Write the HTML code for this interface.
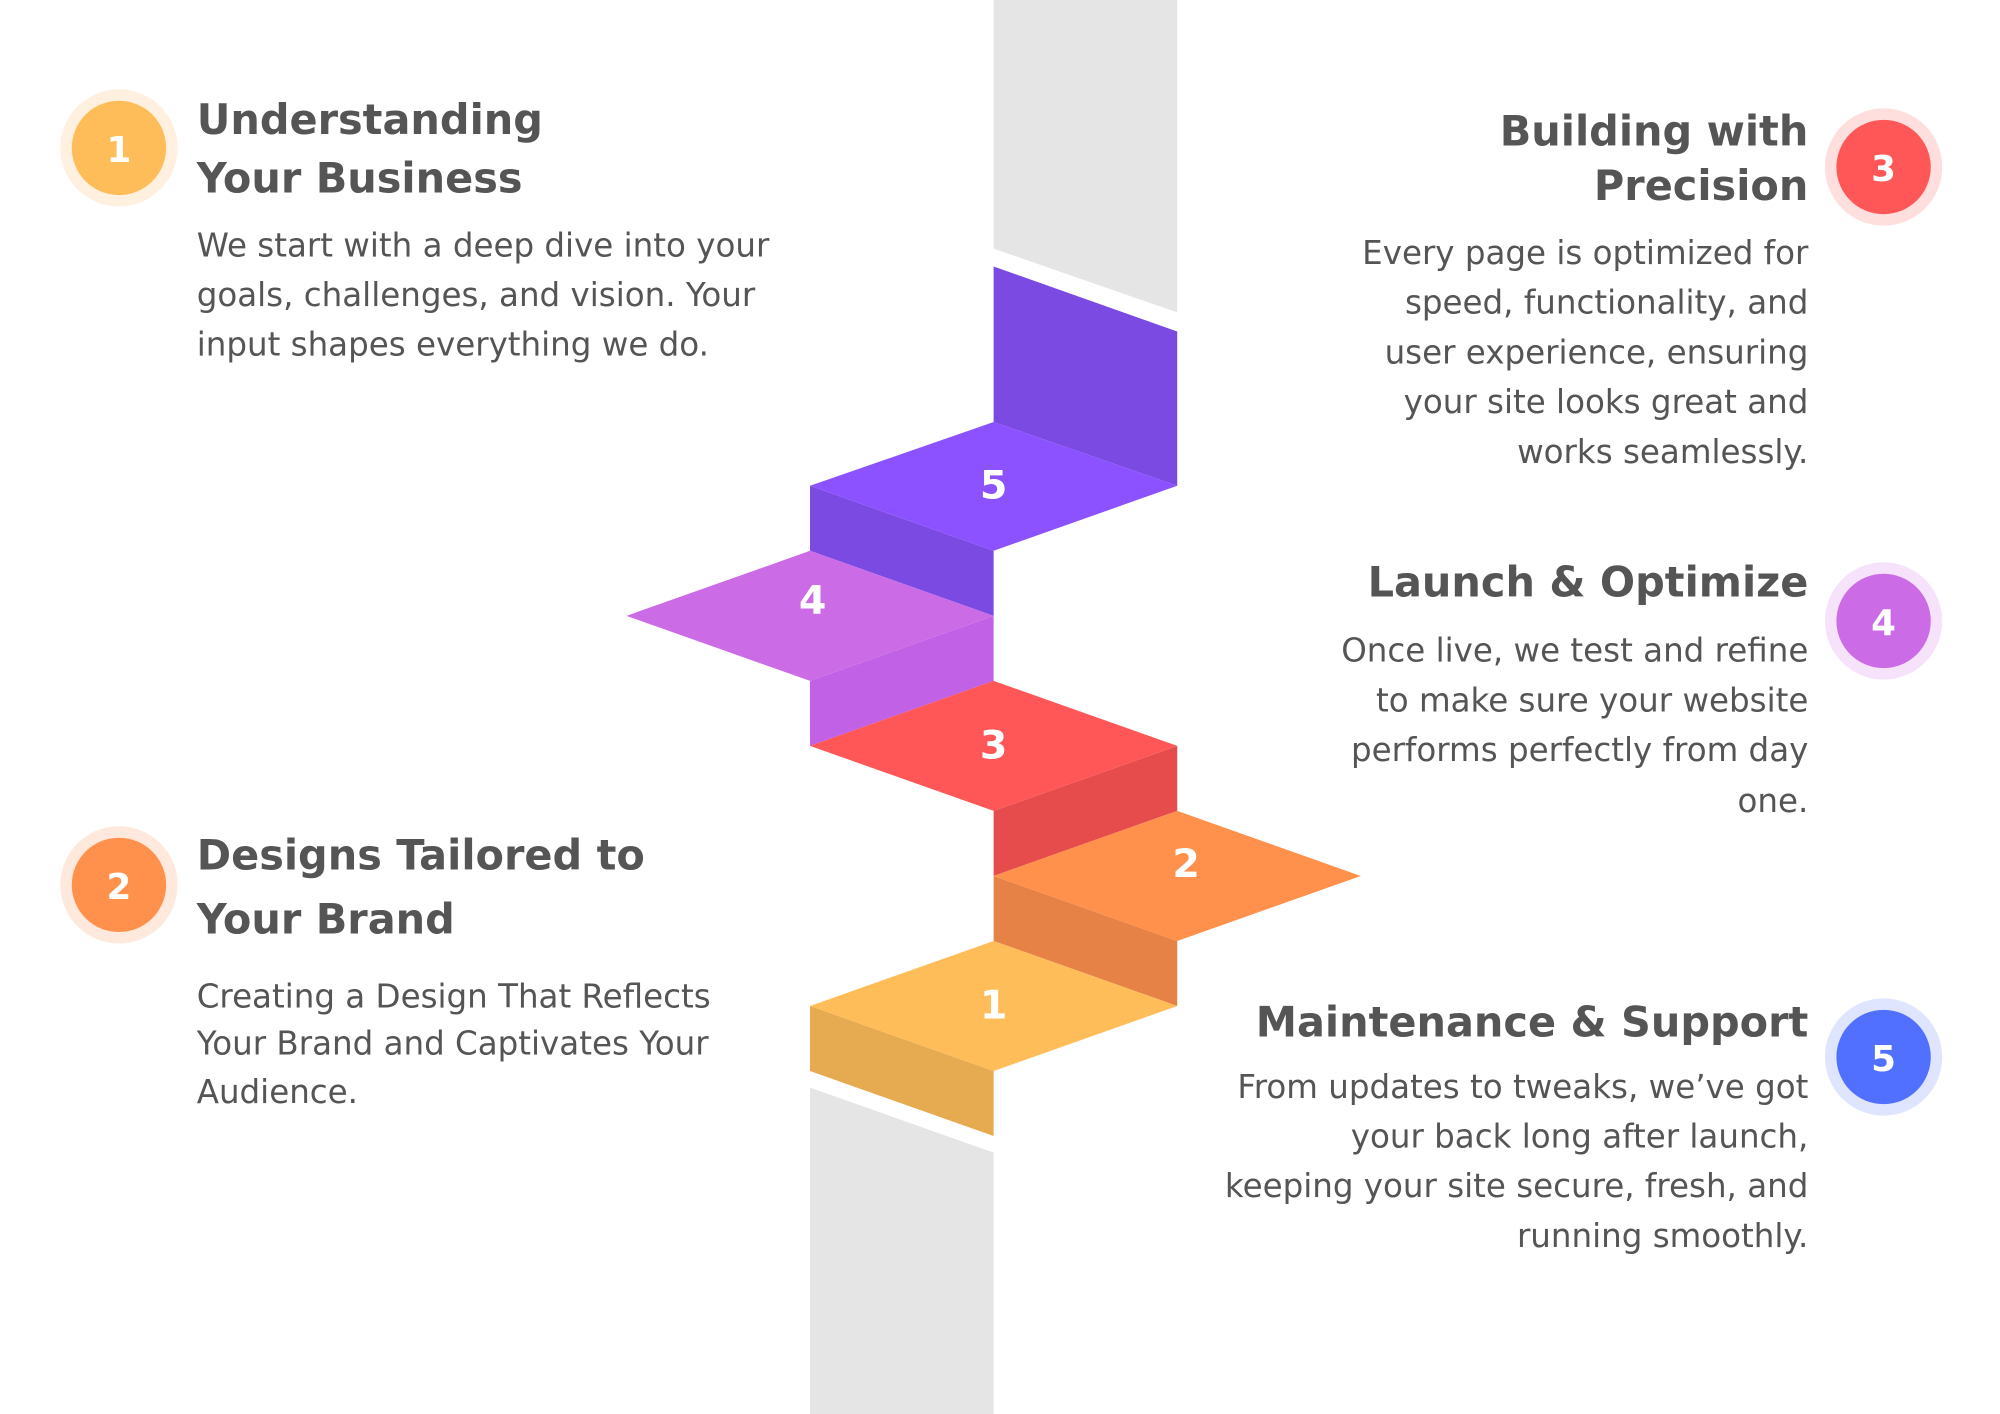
<!DOCTYPE html>
<html><head><meta charset="utf-8"><style>
html,body{margin:0;padding:0;background:#fff;}
svg{display:block;}
text{font-family:"DejaVu Sans","Liberation Sans",sans-serif;fill:#555;}
.t{font-size:32.5px;font-weight:bold;}
.b{font-size:25.5px;}
.n{font-size:31px;font-weight:bold;fill:#fff;}
</style></head><body>
<svg width="2000" height="1414" viewBox="0 0 1568 1109" xmlns="http://www.w3.org/2000/svg">
<rect width="1568" height="1109" fill="#fff"/>
<polygon points="779,0 923,0 923,245 779,195" fill="#e5e5e5"/>
<polygon points="635,853 779,904 779,1109 635,1109" fill="#e5e5e5"/>
<polygon points="779,209 923,260 923,381 779,331" fill="#7b4ae2"/>
<polygon points="635,381 779,432 779,483 635,432" fill="#7b4ae2"/>
<polygon points="635,381 779,331 923,381 779,432" fill="#8c52ff"/>
<polygon points="635,534 779,483 779,534 635,585" fill="#c061e6"/>
<polygon points="491,483 635,432 779,483 635,534" fill="#cb6ce6"/>
<polygon points="779,636 923,585 923,636 779,687" fill="#e64c4c"/>
<polygon points="635,585 779,534 923,585 779,636" fill="#ff5757"/>
<polygon points="779,687 923,738 923,789 779,738" fill="#e68245"/>
<polygon points="779,687 923,636 1067,687 923,738" fill="#ff914d"/>
<polygon points="635,789 779,840 779,891 635,840" fill="#e6aa50"/>
<polygon points="635,789 779,738 923,789 779,840" fill="#ffbd59"/>
<g text-anchor="middle">
<text class="n" x="779" y="391">5</text>
<text class="n" x="637" y="481">4</text>
<text class="n" x="779" y="595">3</text>
<text class="n" x="930" y="688">2</text>
<text class="n" x="779" y="799">1</text>
</g>
<circle cx="93" cy="116" r="46" fill="#fff0e0"/><circle cx="93" cy="116" r="37" fill="#ffbd59"/>
<circle cx="93" cy="694" r="46" fill="#ffe8dc"/><circle cx="93" cy="694" r="37" fill="#ff914d"/>
<circle cx="1477" cy="131" r="46" fill="#ffdede"/><circle cx="1477" cy="131" r="37" fill="#ff5757"/>
<circle cx="1477" cy="487" r="46" fill="#f6e2fb"/><circle cx="1477" cy="487" r="37" fill="#cb6ce6"/>
<circle cx="1477" cy="829" r="46" fill="#dfe5ff"/><circle cx="1477" cy="829" r="37" fill="#5170ff"/>
<g text-anchor="middle">
<text class="n" x="93" y="127" style="font-size:28px">1</text>
<text class="n" x="93" y="705" style="font-size:28px">2</text>
<text class="n" x="1477" y="142" style="font-size:28px">3</text>
<text class="n" x="1477" y="498" style="font-size:28px">4</text>
<text class="n" x="1477" y="840" style="font-size:28px">5</text>
</g>
<text class="t" x="154" y="105">Understanding</text>
<text class="t" x="154" y="151">Your Business</text>
<text class="b" x="154" y="201">We start with a deep dive into your</text>
<text class="b" x="154" y="240">goals, challenges, and vision. Your</text>
<text class="b" x="154" y="279">input shapes everything we do.</text>
<text class="t" x="154" y="682">Designs Tailored to</text>
<text class="t" x="154" y="732">Your Brand</text>
<text class="b" x="154" y="790">Creating a Design That Reflects</text>
<text class="b" x="154" y="827">Your Brand and Captivates Your</text>
<text class="b" x="154" y="865">Audience.</text>
<g text-anchor="end">
<text class="t" x="1418" y="114">Building with</text>
<text class="t" x="1418" y="157">Precision</text>
<text class="b" x="1418" y="207">Every page is optimized for</text>
<text class="b" x="1418" y="246">speed, functionality, and</text>
<text class="b" x="1418" y="285">user experience, ensuring</text>
<text class="b" x="1418" y="324">your site looks great and</text>
<text class="b" x="1418" y="363">works seamlessly.</text>
<text class="t" x="1418" y="468">Launch &amp; Optimize</text>
<text class="b" x="1418" y="519">Once live, we test and refine</text>
<text class="b" x="1418" y="558">to make sure your website</text>
<text class="b" x="1418" y="597">performs perfectly from day</text>
<text class="b" x="1418" y="637">one.</text>
<text class="t" x="1418" y="813">Maintenance &amp; Support</text>
<text class="b" x="1418" y="861">From updates to tweaks, we’ve got</text>
<text class="b" x="1418" y="900">your back long after launch,</text>
<text class="b" x="1418" y="939">keeping your site secure, fresh, and</text>
<text class="b" x="1418" y="978">running smoothly.</text>
</g>
</svg>
</body></html>
